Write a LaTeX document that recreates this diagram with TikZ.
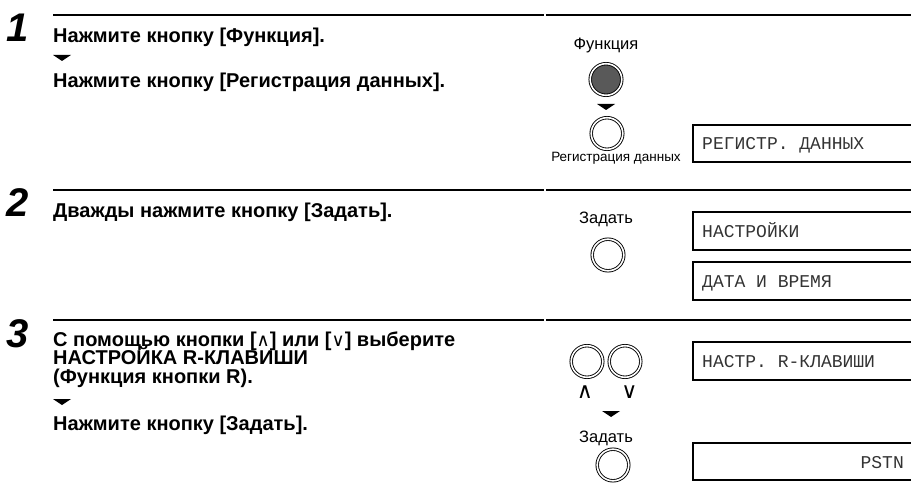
\documentclass[tikz,border=0pt]{standalone}
\usepackage{fontspec}
\setmainfont{Liberation Sans}
\newfontfamily\dispfont{Liberation Mono}
\newfontfamily\symfont{DejaVu Sans}
\begin{document}
\begin{tikzpicture}[x=1pt,y=-1pt,
  rule/.style={line width=2pt},
  numtext/.style={anchor=base west, inner sep=0, font=\fontsize{40}{40}\selectfont\bfseries\itshape},
  steptext/.style={anchor=base west, inner sep=0, text height=14pt, text depth=4pt, font=\fontsize{20}{20}\selectfont\bfseries},
  lbl/.style={anchor=base, inner sep=0, font=\fontsize{16.5}{16.5}\selectfont},
  smalllbl/.style={anchor=base, inner sep=0, font=\fontsize{13.5}{13.5}\selectfont},
  btn/.style={circle, draw, line width=0.9pt, double, double distance=1.6pt, minimum size=31.6pt, inner sep=0},
  darkbtn/.style={btn, fill=black!65},
  disp/.style={line width=2pt},
  disptext/.style={anchor=base west, inner sep=0, text=black!80, font=\dispfont\fontsize{18}{18}\selectfont},
  symlbl/.style={anchor=base, inner sep=0, font=\symfont\fontsize{22}{22}\selectfont},
  tri/.style={fill=black}
]
\useasboundingbox (0,0) rectangle (911,484);

% ---- rules
\draw[rule] (53,15) -- (544,15);
\draw[rule] (546,15) -- (911,15);
\draw[rule] (53,190) -- (544,190);
\draw[rule] (546,190) -- (911,190);
\draw[rule] (53,320) -- (544,320);
\draw[rule] (546,320) -- (911,320);

% ---- step 1
\node[numtext] (n1) at (6,42) {1};
\node[steptext] (s1a) at (53,43) {Нажмите кнопку [Функция].};
\fill[tri] (53,55) -- (71,55) -- (62,61) -- cycle;
\node[steptext] (s1b) at (53,88) {Нажмите кнопку [Регистрация данных].};

\node[lbl] (lf) at (606,50) {Функция};
\node[darkbtn] (bf) at (606,79.5) {};
\fill[tri] (597,104) -- (615,104) -- (606,110) -- cycle;
\node[btn] (br) at (607,133.5) {};
\node[smalllbl] (lr) at (616,162) {Регистрация данных};

\draw[disp] (915,125) -- (693,125) -- (693,162) -- (915,162);
\node[disptext] (d1) at (702,150) {РЕГИСТР. ДАННЫХ};

% ---- step 2
\node[numtext] (n2) at (6,217) {2};
\node[steptext] (s2a) at (53,218) {Дважды нажмите кнопку [Задать].};

\node[lbl] (lz1) at (606,223) {Задать};
\node[btn] (bz1) at (608,255) {};

\draw[disp] (915,212) -- (693,212) -- (693,250) -- (915,250);
\node[disptext] (d2a) at (702,237) {НАСТРОЙКИ};
\draw[disp] (915,262) -- (693,262) -- (693,300) -- (915,300);
\node[disptext] (d2b) at (702,287) {ДАТА И ВРЕМЯ};

% ---- step 3
\node[numtext] (n3) at (6,347) {3};
\node[steptext] (s3a) at (53,346) {С помощью кнопки [{\symfont\mdseries\fontsize{18}{18}\selectfont ∧}] или [{\symfont\mdseries\fontsize{18}{18}\selectfont ∨}] выберите};
\node[steptext] (s3b) at (53,364.5) {НАСТРОЙКА R-КЛАВИШИ};
\node[steptext] (s3c) at (53,383) {(Функция кнопки R).};
\fill[tri] (53,399) -- (71,399) -- (62,405) -- cycle;
\node[steptext] (s3d) at (53,430) {Нажмите кнопку [Задать].};

\node[btn] (bup) at (587,361.5) {};
\node[btn] (bdn) at (625,361.5) {};
\node[symlbl] (lup) at (585,398) {∧};
\node[symlbl] (ldn) at (629.5,398) {∨};
\fill[tri] (602,411) -- (620,411) -- (611,417) -- cycle;
\node[lbl] (lz2) at (606,442) {Задать};
\node[btn] (bz2) at (613,465) {};

\draw[disp] (915,342) -- (693,342) -- (693,380) -- (915,380);
\node[disptext] (d3a) at (702,367) {НАСТР. R-КЛАВИШИ};
\draw[disp] (915,443) -- (693,443) -- (693,480) -- (915,480);
\node[disptext, anchor=base east] (d3b) at (904,468) {PSTN};
\end{tikzpicture}
\end{document}
